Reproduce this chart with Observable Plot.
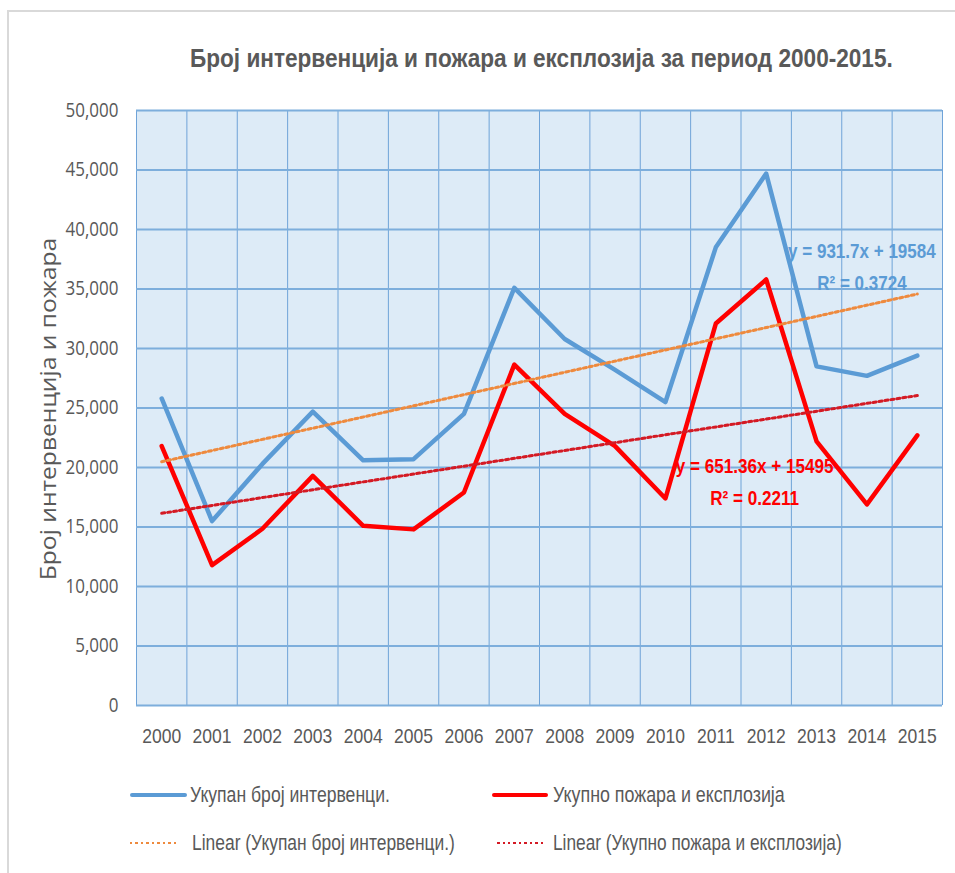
<!DOCTYPE html>
<html>
<head>
<meta charset="utf-8">
<script src="https://cdn.jsdelivr.net/npm/d3@7"></script>
<script src="https://cdn.jsdelivr.net/npm/@observablehq/plot@0.6"></script>
<style>
  html, body { margin: 0; padding: 0; background: #fff; }
  #wrap { position: relative; width: 955px; height: 873px; overflow: hidden; }
  #border { position: absolute; left: 7px; top: 10px; width: 1000px; height: 1000px; border-left: 2px solid #d9d9d9; border-top: 2px solid #d9d9d9; }
  #title { position: absolute; left: 190px; top: 43px; white-space: nowrap; transform-origin: 0 50%;
           font-family: "Liberation Sans", Arial, sans-serif; font-weight: bold; font-size: 26px; line-height: 30px; color: #595959; }
  #ylabel { position: absolute; white-space: nowrap; transform-origin: 50% 50%;
            font-family: "Open Sans", sans-serif; font-size: 21px; line-height: 26px; color: #595959; }
  #chart { position: absolute; left: 0; top: 90px; }
  .leg { position: absolute; font-family: "Liberation Sans", Arial, sans-serif; font-size: 22px; color: #595959; white-space: nowrap; line-height: 24px; transform-origin: 0 50%; }
  .sw { position: absolute; }
</style>
</head>
<body>
<div id="wrap">
  <div id="border"></div>
  <div id="title"></div>
  <div id="ylabel"></div>
  <div id="chart"></div>
  <div id="legend"></div>
</div>
<script>
// ---- data ----
const years = [2000, 2001, 2002, 2003, 2004, 2005, 2006, 2007, 2008, 2009, 2010, 2011, 2012, 2013, 2014, 2015];
const interventions = [25800, 15500, 20300, 24700, 20600, 20700, 24500, 35100, 30800, 28200, 25500, 38500, 44700, 28500, 27700, 29400];
const fires = [21800, 11800, 14850, 19300, 15100, 14800, 17900, 28650, 24500, 21800, 17400, 32100, 35800, 22200, 16900, 22700];
const yTicks = [0, 5000, 10000, 15000, 20000, 25000, 30000, 35000, 40000, 45000, 50000];
const seriesNames = ["Укупан број интервенци.", "Укупно пожара и експлозија"];
const trendNames = ["Linear (Укупан број интервенци.)", "Linear (Укупно пожара и експлозија)"];
const eqInterventions = ["y = 931.7x + 19584", "R² = 0.3724"];
const eqFires = ["y = 651.36x + 15495", "R² = 0.2211"];
const titleText = "Број интервенција и пожара и експлозија за период 2000-2015.";
const yLabelText = "Број интервенција и пожара";

// ---- styles ----
const BLUE = "#5B9BD5", RED = "#FF0000", ORANGE = "#EE8A3E", DARKRED = "#D41A24";
const FONT = "'Liberation Sans', Arial, sans-serif";

// horizontal condensing of a text (emulates the narrow original font)
function fitHtml(el, target) {
  el.style.transform = `scaleX(${target / el.offsetWidth})`;
}
function scaleSvgText(node, k) {
  const t = node.getAttribute("transform");
  if (t) node.setAttribute("transform", `${t} scale(${k},1)`);
  else {
    const x = +node.getAttribute("x") || 0, y = +node.getAttribute("y") || 0;
    node.removeAttribute("x"); node.removeAttribute("y");
    node.setAttribute("transform", `translate(${x},${y}) scale(${k},1)`);
  }
}

const title = document.getElementById("title");
title.textContent = titleText;
fitHtml(title, 703);

const yl = document.getElementById("ylabel");
yl.textContent = yLabelText;
{
  const w = yl.offsetWidth, h = yl.offsetHeight;
  yl.style.left = (48 - w / 2) + "px";
  yl.style.top = (409 - h / 2) + "px";
  yl.style.transform = `rotate(-90deg) scaleX(${342 / w})`;
}

const blueData = years.map((yr, i) => ({year: yr, value: interventions[i]}));
const redData = years.map((yr, i) => ({year: yr, value: fires[i]}));
const boundaries = [...years.map(y => y - 0.5), years[years.length - 1] + 0.5];

const chart = Plot.plot({
  width: 955, height: 680,
  marginTop: 20, marginBottom: 65, marginLeft: 136, marginRight: 13,
  x: {type: "linear", domain: [years[0] - 0.5, years[years.length - 1] + 0.5]},
  y: {domain: [0, 50000]},
  style: {background: "transparent", overflow: "visible"},
  marks: [
    Plot.frame({fill: "#DDEBF7", stroke: null}),
    Plot.ruleX(boundaries, {stroke: "#6FA3D8", strokeWidth: 1}),
    Plot.ruleY(yTicks, {stroke: "#7DAEDC", strokeWidth: 2}),
    Plot.axisY({ticks: yTicks, tickSize: 0, tickPadding: 18, tickFormat: d3.format(","), label: null,
                fontSize: 20, fontFamily: "'Open Sans', sans-serif", fill: "#595959"}),
    Plot.axisX({ticks: years, tickSize: 0, tickPadding: 23, tickFormat: d => String(d), label: null,
                fontSize: 21, fontFamily: FONT, fill: "#595959"}),
    Plot.line(blueData, {x: "year", y: "value", stroke: BLUE, strokeWidth: 4.5, strokeLinejoin: "round"}),
    Plot.line(redData, {x: "year", y: "value", stroke: RED, strokeWidth: 4.5, strokeLinejoin: "round"}),
    Plot.linearRegressionY(blueData, {x: "year", y: "value", ci: 0, stroke: ORANGE, strokeWidth: 3, strokeDasharray: "3,3"}),
    Plot.linearRegressionY(redData, {x: "year", y: "value", ci: 0, stroke: DARKRED, strokeWidth: 3, strokeDasharray: "3,3"}),
    Plot.text([{x: 2013.9, y: 37100, t: eqInterventions.join("\n")}], {x: "x", y: "y", text: "t", fill: BLUE,
                fontWeight: "bold", fontSize: 21, fontFamily: FONT, lineHeight: 1.5, textAnchor: "middle", lineAnchor: "middle"}),
    Plot.text([{x: 2011.77, y: 19030, t: eqFires.join("\n")}], {x: "x", y: "y", text: "t", fill: RED,
                fontWeight: "bold", fontSize: 21, fontFamily: FONT, lineHeight: 1.5, textAnchor: "middle", lineAnchor: "middle"})
  ]
});
document.getElementById("chart").appendChild(chart);

// condense the SVG texts that use the narrow original font
{
  const texts = [...chart.querySelectorAll("text")];
  const xT = texts.filter(n => /^\d{4}$/.test(n.textContent));
  const yT = texts.filter(n => /^[\d,]+$/.test(n.textContent) && !/^\d{4}$/.test(n.textContent));
  const ref50 = yT.find(n => n.textContent === d3.format(",")(yTicks[yTicks.length - 1]));
  const ky = ref50 ? 53 / ref50.getBBox().width : 1;
  yT.forEach(n => scaleSvgText(n, ky));
  const kx = xT.length ? 39 / xT[0].getBBox().width : 1;
  xT.forEach(n => scaleSvgText(n, kx));
  texts.filter(n => n.textContent.startsWith(eqInterventions[0])).forEach(n => scaleSvgText(n, 148 / n.getBBox().width));
  texts.filter(n => n.textContent.startsWith(eqFires[0])).forEach(n => scaleSvgText(n, 158 / n.getBBox().width));
}

// ---- legend ----
const legend = document.getElementById("legend");
const items = [
  {label: seriesNames[0], color: BLUE, style: "solid", w: 4.5, left: 130, sw: 57, top: 795, tx: 190, tw: 200},
  {label: seriesNames[1], color: RED, style: "solid", w: 4.5, left: 492, sw: 56, top: 795, tx: 553, tw: 232},
  {label: trendNames[0], color: ORANGE, style: "dotted", w: 2.5, left: 130, sw: 48, top: 843, tx: 192, tw: 263},
  {label: trendNames[1], color: DARKRED, style: "dotted", w: 2.5, left: 497, sw: 46, top: 843, tx: 553, tw: 289}
];
items.forEach(it => {
  const sw = document.createElement("div");
  sw.className = "sw";
  sw.style.left = it.left + "px";
  sw.style.top = (it.top - it.w / 2) + "px";
  sw.style.width = it.sw + "px";
  if (it.style === "solid") {
    sw.style.height = it.w + "px";
    sw.style.background = it.color;
    sw.style.borderRadius = "3px";
  } else {
    sw.style.height = it.w + "px";
    sw.style.background = `repeating-linear-gradient(90deg, ${it.color} 0 2.5px, transparent 2.5px 5.5px)`;
  }
  legend.appendChild(sw);
  const tx = document.createElement("div");
  tx.className = "leg";
  tx.style.left = it.tx + "px";
  tx.style.top = (it.top - 12) + "px";
  tx.textContent = it.label;
  legend.appendChild(tx);
  fitHtml(tx, it.tw);
});
</script>
</body>
</html>
